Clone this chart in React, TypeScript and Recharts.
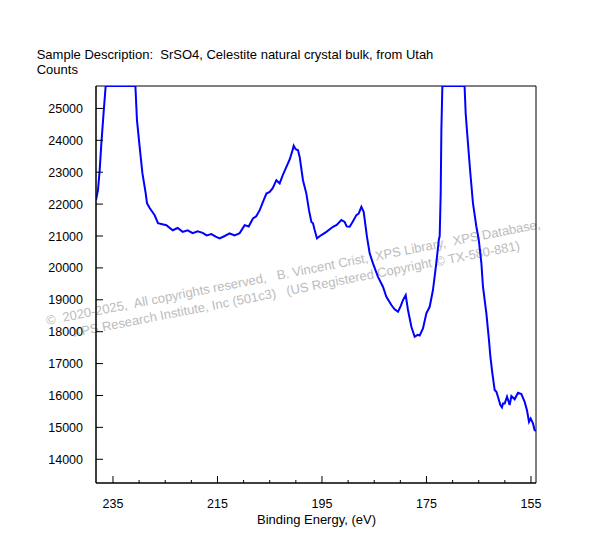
import { LineChart, Line, XAxis, YAxis, ReferenceArea } from "recharts";

// binding energy (eV), left to right
const energies = [
  238.25, 237.87, 237.55, 237.22, 236.78, 236.4, 230.71, 230.41, 229.9, 229.37,
  228.74, 228.49, 227.98, 227.02, 226.39, 224.78, 223.57, 222.62, 221.66, 220.7,
  219.75, 218.79, 217.83, 217.07, 216.17, 215.34, 214.58, 213.62, 212.67, 211.71,
  210.75, 209.8, 209.03, 208.21, 207.59, 206.92, 206.35, 205.64, 205.01, 204.43,
  203.73, 203.1, 202.52, 201.81, 201.18, 200.61, 200.42, 200.03, 199.59, 199.27,
  198.64, 197.99, 197.49, 197.03, 196.72, 196.4, 195.96, 195.11, 194.16, 192.89,
  192.18, 191.29, 190.66, 190.27, 189.7, 189.12, 188.42, 187.98, 187.46, 187.02,
  186.39, 185.87, 185.24, 184.28, 183.33, 182.68, 181.72, 181.09, 180.45, 179.94,
  179.5, 178.98, 178.54, 177.89, 177.26, 176.69, 176.3, 175.67, 175.02, 174.39,
  173.76, 173.12, 172.62, 172.47, 172.28, 172.15, 171.96, 167.71, 167.5, 167.06,
  166.6, 166.1, 165.45, 165.01, 164.49, 164.19, 163.54, 163.04, 162.77, 162.39,
  161.95, 161.62, 161.32, 160.86, 160.55, 160.36, 160.03, 159.59, 159.08, 158.75,
  158.12, 157.49, 156.84, 156.21, 155.77, 155.38, 155.06, 154.62, 154.3, 154.04,
];

// counts at each energy (flat stretches sit at the top of the frame)
const counts = [
  22125, 22440, 23060, 23910, 24900, 25703, 25703, 24630, 23800, 22970,
  22340, 22030, 21875, 21650, 21400, 21340, 21180, 21250, 21130, 21180,
  21090, 21150, 21100, 21020, 21060, 20980, 20925, 21000, 21080, 21020,
  21090, 21340, 21300, 21550, 21620, 21810, 22050, 22330, 22380, 22500,
  22750, 22650, 22900, 23170, 23400, 23700, 23830, 23720, 23690, 23480,
  22750, 22330, 21810, 21440, 21400, 21185, 20925, 21030, 21130, 21290,
  21350, 21500, 21440, 21300, 21290, 21450, 21655, 21700, 21915, 21760,
  20975, 20455, 20140, 19720, 19410, 19095, 18835, 18700, 18625, 18800,
  18990, 19150, 18680, 18155, 17840, 17900, 17880, 18100, 18575, 18780,
  19305, 20150, 20900, 21000, 22335, 24320, 25703, 25703, 24840, 23900,
  22960, 22020, 21290, 20900, 20140, 19410, 18575, 17735, 17215, 16690,
  16170, 16115, 15960, 15700, 15627, 15750, 15750, 15960, 15700, 15980,
  15880, 16085, 16045, 15800, 15540, 15175, 15280, 15125, 14915, 14885,
];

const xTicks = [235, 230, 225, 220, 215, 210, 205, 200, 195, 190, 185, 180, 175, 170, 165, 160, 155];
const xLabelled = [235, 215, 195, 175, 155];
const yTicks = [14000, 15000, 16000, 17000, 18000, 19000, 20000, 21000, 22000, 23000, 24000, 25000];

const X_MIN = 154.04;
const X_MAX = 238.25;
const Y_MIN = 13256;
const Y_MAX = 25703;

const data = energies.map((e, i) => ({ be: e, counts: counts[i] }));

const FONT = "'Liberation Sans', Arial, sans-serif";

const XTick = (props: any) => {
  const { x, y, payload } = props;
  const major = xLabelled.includes(payload.value);
  return (
    <g>
      <line x1={x} x2={x} y1={y} y2={y - (major ? 7 : 3)} stroke="#000" />
      {major && (
        <text x={x} y={y + 25} textAnchor="middle" fontSize={12.5} fontFamily={FONT} fill="#000">
          {payload.value}
        </text>
      )}
    </g>
  );
};

const YTick = (props: any) => {
  const { x, y, payload } = props;
  return (
    <g>
      <line x1={x} x2={x + 7} y1={y} y2={y} stroke="#000" />
      <text x={x - 13} y={y + 4.5} textAnchor="end" fontSize={12.5} fontFamily={FONT} fill="#000">
        {payload.value}
      </text>
    </g>
  );
};

export default function App() {
  return (
    <div style={{ position: "relative", width: 585, height: 549 }}>
      <svg
        width={585}
        height={549}
        style={{ position: "absolute", left: 0, top: 0 }}
        fontFamily={FONT}
      >
        <text x={28.7} y={51.3} fontSize={13} fill="#000" style={{ whiteSpace: "pre" }}>
          {"Sample Description:  SrSO4, Celestite natural crystal bulk, from Utah"}
        </text>
        <text x={28.7} y={66.3} fontSize={13} fill="#000">
          Counts
        </text>
        <text x={308.5} y={516} fontSize={13} fill="#000" textAnchor="middle">
          Binding Energy, (eV)
        </text>
        <g transform="rotate(-11.07 39 317)" fill="#bcbcbc" fontSize={13}>
          <text x={39} y={317} style={{ whiteSpace: "pre" }}>
            {"©  2020-2025,  All copyrights reserved,   B. Vincent Crist,  XPS Library,  XPS Database,"}
          </text>
          <text x={63} y={334} style={{ whiteSpace: "pre" }}>
            {"XPS Research Institute, Inc (501c3)   (US Registered Copyright © TX-580-881)"}
          </text>
        </g>
      </svg>
      <div style={{ position: "absolute", left: 0, top: 0 }}>
        <LineChart
          width={585}
          height={549}
          data={data}
          margin={{ top: 78, right: 57, left: 0, bottom: 0 }}
        >
          <XAxis
            dataKey="be"
            type="number"
            domain={[X_MIN, X_MAX]}
            reversed
            allowDataOverflow
            ticks={xTicks}
            interval={0}
            tickSize={0}
            tickMargin={0}
            tick={XTick}
            height={74}
            axisLine={{ stroke: "#000" }}
            tickLine={false}
          />
          <YAxis
            type="number"
            domain={[Y_MIN, Y_MAX]}
            allowDataOverflow
            ticks={yTicks}
            interval={0}
            tickSize={0}
            tickMargin={0}
            tick={YTick}
            width={88}
            axisLine={{ stroke: "#000" }}
            tickLine={false}
          />
          <ReferenceArea
            x1={X_MAX}
            x2={X_MIN}
            y1={Y_MIN}
            y2={Y_MAX}
            fill="none"
            stroke="#000"
            strokeWidth={1}
          />
          <Line
            type="linear"
            dataKey="counts"
            stroke="#0000ff"
            strokeWidth={2}
            dot={false}
            isAnimationActive={false}
          />
        </LineChart>
      </div>
    </div>
  );
}
